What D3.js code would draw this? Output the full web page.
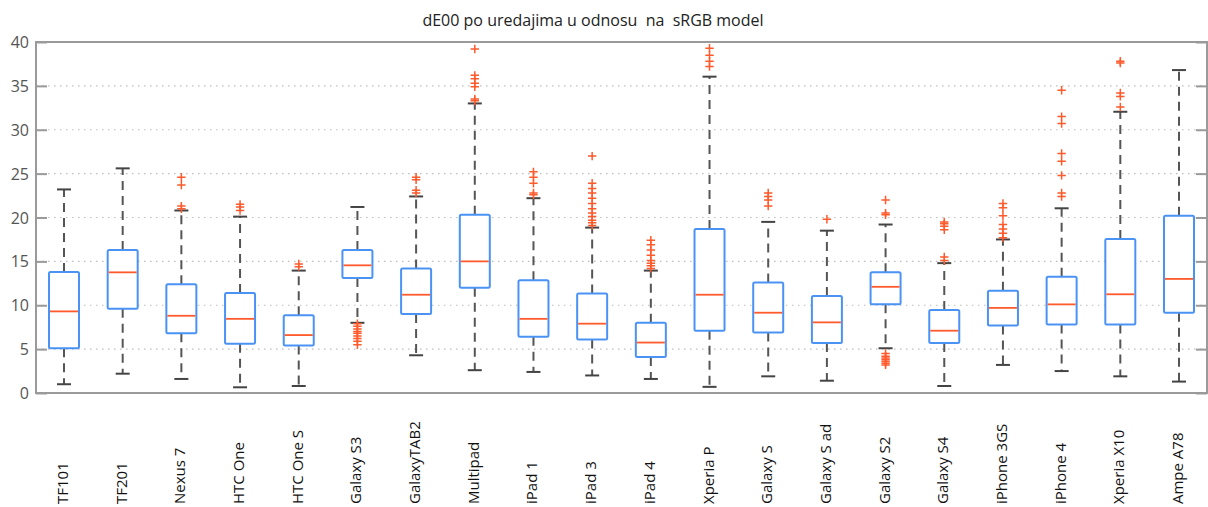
<!DOCTYPE html>
<html>
<head>
<meta charset="utf-8">
<script src="https://cdn.jsdelivr.net/npm/d3@7"></script>
<style>
  html, body { margin: 0; padding: 0; background: #fff; }
  svg { display: block; font-family: "Open Sans", "Noto Sans", sans-serif; }
</style>
</head>
<body>
<svg id="chart" width="1208" height="507"></svg>
<script>
// ---- data ----
const categories = ["TF101","TF201","Nexus 7","HTC One","HTC One S","Galaxy S3","GalaxyTAB2","Multipad","iPad 1","iPad 3","iPad 4","Xperia P","Galaxy S","Galaxy S ad","Galaxy S2","Galaxy S4","iPhone 3GS","iPhone 4","Xperia X10","Ampe A78"];
const whiskerLow  = [1.0, 2.2, 1.6, 0.65, 0.8, 8.0, 4.3, 2.6, 2.4, 2.0, 1.6, 0.7, 1.9, 1.4, 5.1, 0.8, 3.2, 2.5, 1.9, 1.3];
const q1          = [5.1, 9.6, 6.8, 5.6, 5.4, 13.1, 9.0, 12.0, 6.4, 6.1, 4.1, 7.1, 6.9, 5.7, 10.1, 5.7, 7.7, 7.8, 7.8, 9.15];
const median      = [9.3, 13.75, 8.8, 8.45, 6.6, 14.55, 11.2, 15.0, 8.45, 7.9, 5.75, 11.2, 9.15, 8.05, 12.1, 7.1, 9.7, 10.1, 11.25, 13.0];
const q3          = [13.8, 16.3, 12.4, 11.4, 8.85, 16.3, 14.2, 20.3, 12.85, 11.35, 8.0, 18.7, 12.6, 11.05, 13.75, 9.45, 11.65, 13.25, 17.55, 20.2];
const whiskerHigh = [23.2, 25.6, 20.8, 20.1, 13.95, 21.2, 22.4, 33.0, 22.2, 18.85, 13.95, 36.05, 19.5, 18.5, 19.2, 14.8, 17.5, 21.05, 32.05, 36.8];
const outliers = [
  [],
  [],
  [21.0, 21.3, 23.7, 24.6],
  [20.8, 21.2, 21.5],
  [14.4, 14.7],
  [7.9, 7.6, 7.3, 7.0, 6.8, 6.5, 6.2, 5.9, 5.5],
  [22.8, 23.1, 24.3, 24.6],
  [33.3, 33.5, 34.9, 35.3, 35.8, 36.2, 39.2],
  [22.6, 22.8, 23.9, 24.6, 25.2],
  [19.1, 19.4, 19.7, 20.1, 20.5, 21.0, 21.6, 22.2, 22.8, 23.3, 23.9, 27.0],
  [14.2, 14.5, 14.8, 15.1, 15.7, 16.3, 16.9, 17.4],
  [37.2, 37.8, 38.5, 39.3],
  [21.3, 22.0, 22.4, 22.8],
  [19.8],
  [20.3, 20.5, 22.0, 4.5, 4.2, 4.0, 3.8, 3.6, 3.4, 3.2],
  [15.1, 15.5, 18.6, 19.0, 19.3, 19.5],
  [17.7, 18.2, 18.7, 19.2, 20.2, 21.1, 21.6],
  [22.4, 22.8, 24.8, 26.4, 27.3, 30.7, 31.5, 34.5],
  [32.6, 33.8, 34.2, 37.6, 37.8],
  []
];
const yTicks = [0, 5, 10, 15, 20, 25, 30, 35, 40];
const gridTicks = [5, 10, 15, 20, 25, 30, 35];
const title = "dE00 po uredajima u odnosu\u00a0 na\u00a0 sRGB model";

// ---- layout ----
const svg = d3.select("#chart");
const mLeft = 36, mRight = 1207, mTop = 42, mBottom = 393;

const y = d3.scaleLinear().domain([0, 40]).range([mBottom, mTop]);
const x = d3.scalePoint().domain(categories).range([64, 1179]);

const boxW = 30, capW = 14;
const blue = "#4a93f5", red = "#ff5a2c", whiskerCol = "#555";

// grid
svg.append("g").selectAll("line").data(gridTicks).join("line")
  .attr("x1", mLeft).attr("x2", mRight)
  .attr("y1", d => y(d)).attr("y2", d => y(d))
  .attr("stroke", "#bdbdbd").attr("stroke-width", 1.2)
  .attr("stroke-dasharray", "1.5,4.5");

// axes (ticks inward)
const yAxisL = d3.axisRight(y).tickValues(yTicks).tickSize(11).tickFormat("");
const gL = svg.append("g").attr("transform", `translate(${mLeft},0)`).call(yAxisL);
const yAxisR = d3.axisLeft(y).tickValues(yTicks).tickSize(11).tickFormat("");
const gR = svg.append("g").attr("transform", `translate(${mRight},0)`).call(yAxisR);
[gL, gR].forEach(g => {
  g.select(".domain").remove();
  g.selectAll("line").attr("stroke", "#9a9a9a").attr("stroke-width", 2);
});
svg.append("g").selectAll("text").data(yTicks).join("text")
  .attr("x", 29).attr("y", d => y(d))
  .attr("text-anchor", "end").attr("dominant-baseline", "central")
  .attr("font-size", 16).attr("fill", "#555").text(d => d);

// frame
svg.append("rect").attr("x", mLeft).attr("y", mTop)
  .attr("width", mRight - mLeft).attr("height", mBottom - mTop)
  .attr("fill", "none").attr("stroke", "#9a9a9a").attr("stroke-width", 2);

// boxes
const g = svg.append("g").selectAll("g").data(categories).join("g");

// whiskers
g.append("line").attr("x1", d => x(d)).attr("x2", d => x(d))
  .attr("y1", (d, i) => y(q3[i])).attr("y2", (d, i) => y(whiskerHigh[i]))
  .attr("stroke", whiskerCol).attr("stroke-width", 2).attr("stroke-dasharray", "9,6");
g.append("line").attr("x1", d => x(d)).attr("x2", d => x(d))
  .attr("y1", (d, i) => y(q1[i])).attr("y2", (d, i) => y(whiskerLow[i]))
  .attr("stroke", whiskerCol).attr("stroke-width", 2).attr("stroke-dasharray", "9,6");
// caps
g.append("line").attr("x1", d => x(d) - capW / 2).attr("x2", d => x(d) + capW / 2)
  .attr("y1", (d, i) => y(whiskerHigh[i])).attr("y2", (d, i) => y(whiskerHigh[i]))
  .attr("stroke", "#444").attr("stroke-width", 2);
g.append("line").attr("x1", d => x(d) - capW / 2).attr("x2", d => x(d) + capW / 2)
  .attr("y1", (d, i) => y(whiskerLow[i])).attr("y2", (d, i) => y(whiskerLow[i]))
  .attr("stroke", "#444").attr("stroke-width", 2);
// box
g.append("rect")
  .attr("x", d => x(d) - boxW / 2).attr("width", boxW)
  .attr("y", (d, i) => y(q3[i])).attr("height", (d, i) => y(q1[i]) - y(q3[i]))
  .attr("fill", "#fff").attr("stroke", blue).attr("stroke-width", 2).attr("rx", 1.5);
// median
g.append("line").attr("x1", d => x(d) - boxW / 2 + 1).attr("x2", d => x(d) + boxW / 2 - 1)
  .attr("y1", (d, i) => y(median[i])).attr("y2", (d, i) => y(median[i]))
  .attr("stroke", red).attr("stroke-width", 1.8);
// outliers
const ms = 4.2;
g.each(function(d, i) {
  d3.select(this).selectAll("path.out").data(outliers[i]).join("path")
    .attr("class", "out")
    .attr("d", v => `M${x(d) - ms},${y(v)}H${x(d) + ms}M${x(d)},${y(v) - ms}V${y(v) + ms}`)
    .attr("stroke", red).attr("stroke-width", 1.5).attr("fill", "none");
});

// x labels
svg.append("g").selectAll("text").data(categories).join("text")
  .attr("transform", d => `translate(${x(d) - 2},504) rotate(-90)`)
  .attr("text-anchor", "start").attr("dominant-baseline", "central")
  .attr("font-size", 15).attr("fill", "#111").text(d => d);

// title
svg.append("text").attr("x", 593).attr("y", 26).attr("text-anchor", "middle")
  .attr("font-size", 16).attr("fill", "#222").text(title);
</script>
</body>
</html>
